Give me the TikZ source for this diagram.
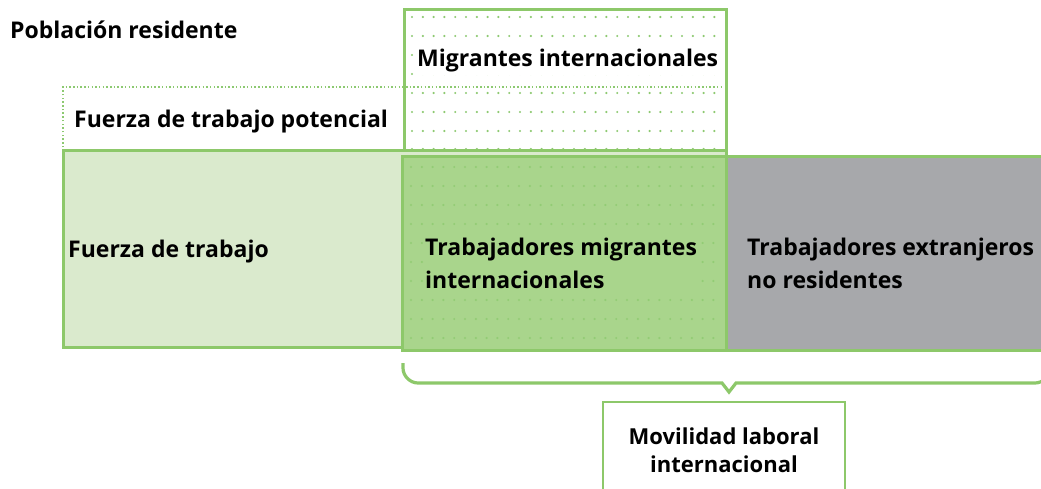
\documentclass[tikz,border=0pt]{standalone}
\usepackage{fontspec}
\setmainfont{Open Sans}
\definecolor{gborder}{RGB}{141,200,106}
\definecolor{glight}{RGB}{218,234,205}
\definecolor{gmed}{RGB}{169,213,140}
\definecolor{ggray}{RGB}{167,168,171}
\definecolor{gdot}{RGB}{141,201,113}
\definecolor{gdotd}{RGB}{146,204,116}
\begin{document}
\begin{tikzpicture}[x=1pt,y=-1pt,
  lbl/.style={font=\bfseries\fontsize{23}{33}\selectfont, inner xsep=0pt, inner ysep=2pt, anchor=base west, align=left},
  edge/.style={draw=gborder, line width=3}]
\clip (0,0) rectangle (1041,489);
% dots of Migrantes internacionales
\foreach \y in {17,36,55,74,93,112,131,149}
  \foreach \x in {412,422.8,...,721}
    \fill[gdot] (\x,\y) circle (1.2);
% potential labour force (dotted)
\draw[gdot, line width=2.2, dash pattern=on 1.5pt off 2.2pt] (63,151) -- (63,87) -- (722,87);
% Migrantes internacionales box
\draw[edge] (404,10) rectangle (726,157);
% Fuerza de trabajo
\draw[edge, fill=glight] (63,151) rectangle (726,347);
% Trabajadores migrantes
\draw[edge, fill=gmed] (402,157) rectangle (726,350);
\foreach \y in {167,186,205,224,243,262,281,300,319,338}
  \foreach \x in {411,421.8,...,721}
    \fill[gdotd] (\x,\y) circle (1.2);
% Trabajadores extranjeros
\fill[ggray] (727,158) rectangle (1045,349);
\draw[edge] (726,157) -- (1045,157);
\draw[edge] (726,350) -- (1045,350);
\draw[edge] (726,150) -- (726,351);
% labels
\node[lbl] (pob) at (10,39) {Población residente};
\node[lbl, fill=white] (mig) at (417,67) {Migrantes internacionales};
\node[lbl] (pot) at (74,128) {Fuerza de trabajo potencial};
\node[lbl] (fza) at (68,257) {Fuerza de trabajo};
\node[lbl, fill=gmed] (tmi) at (425,288) {Trabajadores migrantes\\internacionales};
\node[lbl] (tex) at (747,288) {Trabajadores extranjeros\\no residentes};
% Movilidad box
\draw[gborder, line width=2.5] (603,402) rectangle (845,495);
\node[lbl, anchor=base, align=center, font=\bfseries\fontsize{22}{28}\selectfont] (mov) at (724,472) {Movilidad laboral\\internacional};
% brace
\draw[gborder, line width=3.2] (403,363) -- (403,368) .. controls (403,376) and (410,383) .. (418,383)
  -- (722,383) -- (729,392) -- (736,383) -- (1035,383) .. controls (1043,383) and (1050,376) .. (1050,368) -- (1050,363);
\end{tikzpicture}
\end{document}
